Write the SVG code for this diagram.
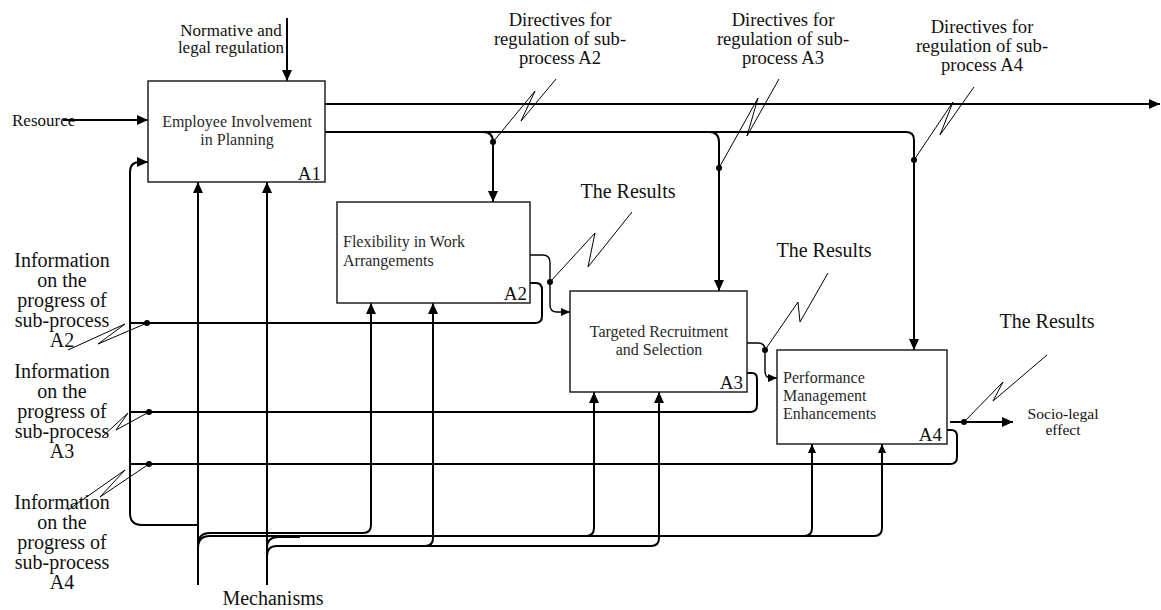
<svg xmlns="http://www.w3.org/2000/svg" width="1161" height="610" viewBox="0 0 1161 610">
<style>
text{font-family:"Liberation Serif","Times New Roman",serif;fill:#111}
.lbl{font-size:20px;text-anchor:middle}
.dir{font-size:18.6px;text-anchor:middle}
.sm{font-size:17px}
.sl{font-size:15.6px;text-anchor:middle}
.nt{font-size:16px;fill:#2a2a2a}
.id{font-size:19px;text-anchor:end}
.box{fill:#fff;stroke:#222;stroke-width:1.5}
.ln{fill:none;stroke:#000;stroke-width:2}
.thin{fill:none;stroke:#000;stroke-width:1.4}
.sq{fill:none;stroke:#000;stroke-width:1}
.dot{fill:#000}
</style>
<defs>
<marker id="ah" markerUnits="userSpaceOnUse" markerWidth="12" markerHeight="10" refX="11" refY="5" orient="auto">
<path d="M0,0 L11,5 L0,10 Z" fill="#000"/>
</marker>
<marker id="as" markerUnits="userSpaceOnUse" markerWidth="9" markerHeight="8" refX="9" refY="4" orient="auto">
<path d="M0,0 L9,4 L0,8 Z" fill="#000"/>
</marker>
</defs>

<g id="connectors">
<path class="ln" d="M287,18 L287,81" marker-end="url(#ah)"/>
<path class="ln" d="M63,120 L148,120" marker-end="url(#ah)"/>
<path class="ln" d="M325,104 L1160,104" marker-end="url(#ah)"/>
<path class="ln" d="M325,132 L906,132 Q914,132 914,140 L914,350" marker-end="url(#ah)"/>
<path class="ln" d="M483,132 Q493,132 493,142 L493,202" marker-end="url(#ah)"/>
<path class="ln" d="M709,132 Q719,132 719,142 L719,291" marker-end="url(#ah)"/>
<path class="thin" d="M530,255 L543,255 Q550,255 550,263 L550,305 Q550,312 557,312 L570,312" marker-end="url(#as)"/>
<path class="thin" d="M747,343 L758,343 Q765,343 765,350 L765,371 Q765,378 771,378 L777,378" marker-end="url(#as)"/>
<path class="ln" d="M950,422 L1013,422" marker-end="url(#ah)"/>
<path class="ln" d="M530,283 L536,283 Q542,283 542,290 L542,316 Q542,323 535,323 L130,323"/>
<path class="ln" d="M747,373 L752,373 Q757,373 757,379 L757,405 Q757,412 750,412 L130,412"/>
<path class="ln" d="M947,430 L951,430 Q957,430 957,436 L957,457 Q957,464 950,464 L130,464"/>
<path class="ln" d="M198,525 L142,525 Q130,525 130,513 L130,172 Q130,162 140,162 L148,162" marker-end="url(#ah)"/>
<path class="ln" d="M198,585 L198,182" marker-end="url(#ah)"/>
<path class="ln" d="M267,585 L267,182" marker-end="url(#ah)"/>
<path class="ln" d="M198,545 Q198,533 210,533 L363,533 Q371,533 371,525 L371,303" marker-end="url(#ah)"/>
<path class="ln" d="M198,548 Q198,536 210,536 L586,536 Q594,536 594,528 L594,392" marker-end="url(#ah)"/>
<path class="ln" d="M580,536 L804,536 Q812,536 812,528 L812,444" marker-end="url(#as)"/>
<path class="ln" d="M800,536 L874,536 Q882,536 882,528 L882,444" marker-end="url(#as)"/>
<path class="ln" d="M267,548 Q267,537 278,537 L300,537"/>
<path class="ln" d="M267,556 Q267,546 277,546 L425,546 Q433,546 433,538 L433,303" marker-end="url(#ah)"/>
<path class="ln" d="M420,546 L651,546 Q659,546 659,538 L659,392" marker-end="url(#ah)"/>
<path class="sq" d="M556,79 L521,121 L535,91 L493,142"/>
<path class="sq" d="M779,79 L747,136 L758,98 L719,168"/>
<path class="sq" d="M974,87 L940,135 L953,102 L914,160"/>
<path class="sq" d="M632,212 L588,267 L595,233 L550,282"/>
<path class="sq" d="M828,273 L800,322 L798,302 L765,350"/>
<path class="sq" d="M1047,355 L993,401 L1003,382 L964,422"/>
<path class="sq" d="M147,323 L98,344 L125,324 L68,350"/>
<path class="sq" d="M149,412 L116,430 L128,413 L102,437"/>
<path class="sq" d="M149,464 L100,497 L125,470 L68,510"/>
<circle class="dot" cx="493" cy="142" r="3"/>
<circle class="dot" cx="719" cy="168" r="3"/>
<circle class="dot" cx="914" cy="160" r="3"/>
<circle class="dot" cx="550" cy="282" r="3"/>
<circle class="dot" cx="765" cy="350" r="3"/>
<circle class="dot" cx="964" cy="422" r="3"/>
<circle class="dot" cx="147" cy="323" r="3"/>
<circle class="dot" cx="149" cy="412" r="3"/>
<circle class="dot" cx="149" cy="464" r="3"/>
</g>

<g id="A1">
<rect class="box" x="148" y="81" width="177" height="101"/>
<text class="nt" x="237" y="127" text-anchor="middle">Employee Involvement</text>
<text class="nt" x="237" y="145" text-anchor="middle">in Planning</text>
<text class="id" x="321" y="180">A1</text>
</g>
<g id="A2">
<rect class="box" x="337" y="202" width="193" height="101"/>
<text class="nt" x="343" y="247">Flexibility in Work</text>
<text class="nt" x="343" y="266">Arrangements</text>
<text class="id" x="527" y="300">A2</text>
</g>
<g id="A3">
<rect class="box" x="570" y="291" width="177" height="101"/>
<text class="nt" x="659" y="337" text-anchor="middle">Targeted Recruitment</text>
<text class="nt" x="659" y="355" text-anchor="middle">and Selection</text>
<text class="id" x="743" y="389">A3</text>
</g>
<g id="A4">
<rect class="box" x="777" y="350" width="170" height="94"/>
<text class="nt" x="783" y="383">Performance</text>
<text class="nt" x="783" y="401">Management</text>
<text class="nt" x="783" y="419">Enhancements</text>
<text class="id" x="942" y="441">A4</text>
</g>

<g id="labels">
<text class="sm" x="231" y="36" text-anchor="middle">Normative and</text>
<text class="sm" x="231" y="53" text-anchor="middle">legal regulation</text>
<text class="sm" x="12" y="126">Resource</text>
<text class="dir" x="560" y="26">Directives for</text>
<text class="dir" x="560" y="45">regulation of sub-</text>
<text class="dir" x="560" y="64">process A2</text>
<text class="dir" x="783" y="26">Directives for</text>
<text class="dir" x="783" y="45">regulation of sub-</text>
<text class="dir" x="783" y="64">process A3</text>
<text class="dir" x="982" y="33">Directives for</text>
<text class="dir" x="982" y="52">regulation of sub-</text>
<text class="dir" x="982" y="71">process A4</text>
<text class="lbl" x="628" y="198">The Results</text>
<text class="lbl" x="824" y="257">The Results</text>
<text class="lbl" x="1047" y="328">The Results</text>
<text class="sl" x="1063" y="419">Socio-legal</text>
<text class="sl" x="1063" y="435">effect</text>
<text class="lbl" x="273" y="605">Mechanisms</text>
<text class="lbl" x="62" y="267">Information</text>
<text class="lbl" x="62" y="287">on the</text>
<text class="lbl" x="62" y="307">progress of</text>
<text class="lbl" x="62" y="327">sub-process</text>
<text class="lbl" x="62" y="347">A2</text>
<text class="lbl" x="62" y="378">Information</text>
<text class="lbl" x="62" y="398">on the</text>
<text class="lbl" x="62" y="418">progress of</text>
<text class="lbl" x="62" y="438">sub-process</text>
<text class="lbl" x="62" y="458">A3</text>
<text class="lbl" x="62" y="509">Information</text>
<text class="lbl" x="62" y="529">on the</text>
<text class="lbl" x="62" y="549">progress of</text>
<text class="lbl" x="62" y="569">sub-process</text>
<text class="lbl" x="62" y="589">A4</text>
</g>
</svg>
